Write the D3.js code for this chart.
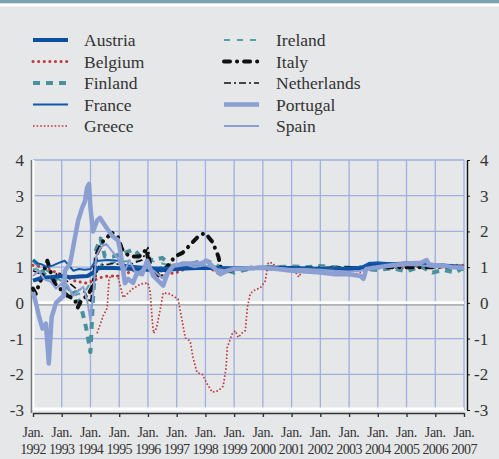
<!DOCTYPE html>
<html lang="en">
<head>
<meta charset="UTF-8">
<title>Euro area spreads</title>
<script src="https://cdn.jsdelivr.net/npm/d3@7"></script>
<style>
  body { margin: 0; background: #e6e7e9; }
  svg { display: block; font-family: "Liberation Serif", "Times New Roman", serif; }
  .grid { stroke: #9fb0dc; stroke-width: 1.3; }
  .line { fill: none; stroke-linejoin: round; }
</style>
</head>
<body>
<svg id="chart" width="499" height="459"></svg>
<script>
// data: [decimal year, value]
const years = d3.range(1992, 2008);
const yTicks = [-3, -2, -1, 0, 1, 2, 3, 4];

const austria = [[1992.0,0.62],[1992.3,0.7],[1992.6,0.72],[1993.0,0.75],[1993.3,0.72],[1993.6,0.74],[1993.9,0.75],[1994.1,0.85],[1994.25,0.97],[1994.6,0.98],[1995.0,0.97],[1995.5,0.95],[1996.0,0.93],[1996.5,0.92],[1997.0,0.95],[1997.5,0.97],[1998.0,0.98],[1998.5,0.97],[1999.0,0.96],[1999.5,0.97],[2000.0,0.98],[2000.5,0.98],[2001.0,0.97],[2001.5,0.96],[2002.0,0.95],[2002.5,0.94],[2003.0,0.95],[2003.4,0.97],[2003.7,1.08],[2004.0,1.1],[2004.5,1.08],[2005.0,1.1],[2005.5,1.08],[2006.0,1.06],[2006.5,1.03],[2007.0,1.0]];
const belgium = [[1992.0,1.05],[1992.4,1.0],[1992.8,0.85],[1993.1,0.75],[1993.5,0.6],[1993.9,0.55],[1994.3,0.7],[1994.6,0.75],[1995.0,0.75],[1995.5,0.9],[1995.9,0.98],[1996.4,0.9],[1996.9,0.82],[1997.3,0.95],[1997.6,1.1],[1998.0,1.05],[1998.5,0.8],[1999.0,0.92],[1999.5,0.97],[2000.0,1.0],[2000.5,1.0],[2001.0,0.97],[2001.5,0.95],[2002.0,0.95],[2002.5,0.93],[2003.0,0.95],[2003.5,0.98],[2004.0,1.0],[2004.5,1.02],[2005.0,1.03],[2005.5,1.05],[2006.0,1.0],[2006.5,1.05],[2007.0,1.05]];
const finland = [[1992.0,1.2],[1992.2,1.05],[1992.4,0.8],[1992.6,0.7],[1992.9,0.6],[1993.1,0.5],[1993.3,0.25],[1993.5,0.3],[1993.7,-0.2],[1993.85,-0.7],[1994.0,-1.38],[1994.08,0.0],[1994.2,1.5],[1994.35,1.8],[1994.5,1.3],[1994.8,1.3],[1995.2,1.4],[1995.5,1.5],[1995.8,1.25],[1996.2,1.2],[1996.5,1.26],[1996.9,0.95],[1997.2,1.1],[1997.5,1.1],[1998.0,1.18],[1998.3,1.1],[1998.6,0.95],[1999.0,0.85],[1999.5,0.95],[2000.0,1.0],[2000.5,1.0],[2001.0,1.02],[2001.5,1.0],[2002.0,1.03],[2002.5,1.0],[2003.0,0.98],[2003.5,0.95],[2004.0,0.92],[2004.5,0.97],[2005.0,0.88],[2005.5,1.02],[2005.9,0.85],[2006.3,0.92],[2006.7,0.85],[2007.0,1.0]];
const france = [[1992.0,1.2],[1992.15,1.1],[1992.3,1.08],[1992.5,1.0],[1992.7,1.05],[1992.9,1.12],[1993.1,1.18],[1993.25,1.05],[1993.4,0.9],[1993.6,0.95],[1993.8,0.93],[1994.0,0.95],[1994.15,1.15],[1994.3,1.18],[1994.6,1.2],[1995.0,1.18],[1995.2,1.05],[1995.5,1.03],[1996.0,1.0],[1996.5,0.98],[1997.0,1.0],[1997.5,1.02],[1998.0,1.03],[1998.5,1.0],[1999.0,0.98],[1999.5,1.0],[2000.0,1.0],[2001.0,0.98],[2002.0,0.97],[2003.0,0.98],[2003.5,1.02],[2003.7,1.12],[2004.0,1.12],[2004.5,1.1],[2005.0,1.12],[2005.5,1.1],[2006.0,1.08],[2006.5,1.05],[2007.0,1.02]];
const greece = [[1994.23,-0.85],[1994.45,-0.35],[1994.58,-0.15],[1994.65,0.7],[1994.75,0.75],[1994.95,0.75],[1995.14,0.15],[1995.48,0.4],[1995.75,0.53],[1996.0,0.56],[1996.08,0.3],[1996.15,-0.5],[1996.2,-0.85],[1996.3,-0.7],[1996.42,-0.22],[1996.53,0.28],[1996.77,0.25],[1997.05,0.1],[1997.19,-0.5],[1997.3,-0.98],[1997.47,-1.07],[1997.57,-1.53],[1997.71,-1.95],[1997.89,-2.0],[1998.06,-2.27],[1998.24,-2.5],[1998.45,-2.46],[1998.62,-2.33],[1998.72,-1.82],[1998.76,-1.25],[1998.93,-0.87],[1999.04,-0.78],[1999.14,-0.97],[1999.28,-0.84],[1999.39,-0.78],[1999.46,-0.13],[1999.56,0.25],[1999.67,0.34],[1999.91,0.42],[2000.08,0.6],[2000.19,1.12],[2000.33,1.12],[2000.43,1.02],[2000.8,0.98],[2001.1,0.9],[2001.25,0.72],[2001.4,0.95],[2002.0,0.97],[2002.5,0.9],[2002.7,0.82],[2003.3,0.82],[2003.6,0.92],[2004.1,0.97],[2005.0,0.97],[2005.5,1.02],[2006.0,1.0],[2006.5,0.98],[2007.0,1.05]];
const ireland = [[1992.0,0.95],[1992.5,0.9],[1993.0,0.6],[1993.4,0.2],[1993.8,0.3],[1994.1,0.7],[1994.4,1.1],[1995.0,1.15],[1996.0,1.2],[1996.5,1.1],[1997.0,1.0],[1998.0,1.05],[1999.0,0.95],[1999.5,1.0],[2000.5,1.02],[2001.5,0.98],[2002.5,1.0],[2003.5,0.95],[2004.5,1.0],[2005.3,0.95],[2006.0,1.02],[2006.5,0.95],[2007.0,0.92]];
const italy = [[1992.0,0.4],[1992.1,0.25],[1992.2,0.5],[1992.35,0.8],[1992.5,1.18],[1992.6,0.9],[1992.75,0.55],[1993.0,0.35],[1993.2,0.2],[1993.45,0.1],[1993.55,-0.14],[1993.7,0.1],[1993.9,0.2],[1994.1,0.5],[1994.2,1.35],[1994.45,1.74],[1994.75,1.96],[1994.95,1.85],[1995.1,1.5],[1995.35,1.3],[1995.7,1.3],[1995.95,1.5],[1996.05,1.0],[1996.3,0.85],[1996.45,0.67],[1996.65,1.0],[1996.95,1.3],[1997.2,1.4],[1997.5,1.65],[1997.8,1.9],[1998.0,1.95],[1998.25,1.7],[1998.45,1.3],[1998.55,0.95],[1998.8,0.9],[1999.2,0.95],[1999.6,0.98],[2000.0,0.97],[2001.0,0.97],[2002.0,0.96],[2003.0,0.97],[2003.5,0.95],[2004.0,1.0],[2005.0,1.0],[2006.0,1.0],[2007.0,1.02]];
const netherlands = [[1992.0,0.9],[1992.3,0.8],[1992.6,0.7],[1992.9,0.85],[1993.2,0.6],[1993.5,0.4],[1993.8,0.3],[1994.0,0.0],[1994.1,0.5],[1994.3,1.05],[1994.8,1.1],[1995.3,1.05],[1995.8,1.2],[1996.0,1.55],[1996.15,0.95],[1996.5,1.0],[1997.0,1.05],[1997.5,1.0],[1998.0,1.0],[1998.5,0.95],[1999.0,0.95],[2000.0,1.0],[2001.0,0.98],[2002.0,0.98],[2003.0,1.0],[2004.0,1.05],[2005.0,1.05],[2006.0,1.02],[2007.0,1.0]];
const portugal = [[1992.0,0.3],[1992.1,0.0],[1992.2,-0.35],[1992.33,-0.72],[1992.45,-0.58],[1992.55,-1.7],[1992.65,-0.4],[1992.8,0.0],[1993.0,0.15],[1993.08,0.2],[1993.11,0.9],[1993.29,1.1],[1993.46,1.83],[1993.57,2.3],[1993.71,2.66],[1993.81,2.85],[1993.88,3.22],[1993.95,3.33],[1994.0,2.66],[1994.09,2.0],[1994.23,2.3],[1994.33,2.38],[1994.51,2.16],[1994.75,1.88],[1994.96,1.75],[1995.05,1.4],[1995.2,0.55],[1995.31,0.67],[1995.48,0.56],[1995.62,0.84],[1995.8,0.8],[1995.97,1.18],[1996.18,0.76],[1996.53,0.48],[1996.67,0.8],[1996.88,1.04],[1997.37,1.1],[1997.82,1.1],[1998.06,1.18],[1998.52,0.8],[1998.76,0.9],[1999.0,0.95],[1999.5,0.97],[2000.0,0.98],[2000.5,0.95],[2001.0,0.9],[2001.5,0.88],[2002.0,0.85],[2002.5,0.8],[2003.0,0.8],[2003.4,0.75],[2003.5,0.67],[2003.6,0.95],[2004.0,1.0],[2004.5,1.05],[2005.0,1.1],[2005.5,1.12],[2005.7,1.2],[2005.8,1.05],[2006.2,1.05],[2006.6,1.0],[2007.0,0.98]];
const spain = [[1992.0,0.75],[1992.2,0.9],[1992.4,0.65],[1992.6,0.6],[1992.8,0.4],[1993.0,0.55],[1993.2,0.5],[1993.4,0.2],[1993.6,0.35],[1993.75,0.45],[1993.9,0.0],[1994.0,-0.5],[1994.1,0.3],[1994.2,1.3],[1994.35,1.55],[1994.55,1.65],[1994.75,1.45],[1994.95,1.25],[1995.15,0.8],[1995.35,1.2],[1995.6,0.8],[1995.9,1.0],[1996.2,0.9],[1996.5,0.7],[1996.8,1.0],[1997.2,1.1],[1997.6,1.0],[1998.0,1.05],[1998.4,0.95],[1998.8,0.9],[1999.2,0.95],[1999.6,1.0],[2000.0,1.0],[2000.5,0.98],[2001.0,0.95],[2001.5,0.95],[2002.0,0.93],[2002.5,0.9],[2003.0,0.88],[2003.4,0.9],[2003.7,0.98],[2004.0,1.0],[2004.5,1.02],[2005.0,1.05],[2005.5,1.05],[2006.0,1.0],[2006.5,1.0],[2007.0,1.0]];

const styles = {
  Austria:     { data: austria,     color: "#0b4f9e", width: 4,   dash: null,          cap: "butt" },
  Belgium:     { data: belgium,     color: "#c0393b", width: 3,   dash: "0.1 5.5",     cap: "round" },
  Finland:     { data: finland,     color: "#4a919d", width: 4,   dash: "7 6",         cap: "butt" },
  France:      { data: france,      color: "#1258aa", width: 2,   dash: null,          cap: "butt" },
  Greece:      { data: greece,      color: "#c0393b", width: 1.7, dash: "1.6 2",       cap: "butt" },
  Ireland:     { data: ireland,     color: "#55a0aa", width: 2,   dash: "6 7",         cap: "butt" },
  Italy:       { data: italy,       color: "#111111", width: 4,   dash: "6 7 0.1 7",   cap: "round" },
  Netherlands: { data: netherlands, color: "#111111", width: 1.6, dash: "7 3 2 3",     cap: "butt" },
  Portugal:    { data: portugal,    color: "#8b9fd2", width: 4.5, dash: null,          cap: "butt" },
  Spain:       { data: spain,       color: "#8b9fd2", width: 2,   dash: null,          cap: "butt" }
};
const legendCol1 = ["Austria", "Belgium", "Finland", "France", "Greece"];
const legendCol2 = ["Ireland", "Italy", "Netherlands", "Portugal", "Spain"];
const drawOrder = ["Greece", "Belgium", "Ireland", "Finland", "Netherlands", "Italy", "Austria", "France", "Spain", "Portugal"];

const svg = d3.select("#chart");
const plotLeft = 33, plotRight = 464, plotTop = 160, plotBottom = 410;

// header band
svg.append("rect").attr("x", 0).attr("y", 0).attr("width", 499).attr("height", 3.5).attr("fill", "#7aa3b0");
svg.append("rect").attr("x", 0).attr("y", 3.5).attr("width", 499).attr("height", 3).attr("fill", "#ffffff");

const x = d3.scaleLinear().domain([1992, 2007]).range([plotLeft, plotRight]);
const y = d3.scaleLinear().domain([-3, 4]).range([plotBottom, plotTop]);

// grid
const g = svg.append("g");
g.selectAll(".vg").data(years.slice(1)).enter().append("line").attr("class", "grid")
  .attr("x1", d => x(d)).attr("x2", d => x(d)).attr("y1", plotTop).attr("y2", plotBottom);
g.selectAll(".hg").data(yTicks.filter(d => d !== 0 && d !== -3)).enter().append("line").attr("class", "grid")
  .attr("x1", plotLeft).attr("x2", plotRight).attr("y1", d => y(d)).attr("y2", d => y(d));

// zero line and frame
g.append("line").attr("x1", plotLeft).attr("x2", plotRight).attr("y1", y(0) + 2).attr("y2", y(0) + 2).attr("stroke", "#6f6f6f").attr("stroke-width", 1);
g.append("line").attr("x1", plotLeft).attr("x2", plotRight).attr("y1", y(0)).attr("y2", y(0)).attr("stroke", "#ffffff").attr("stroke-width", 3);
g.append("line").attr("x1", plotLeft).attr("x2", plotRight).attr("y1", plotBottom - 1).attr("y2", plotBottom - 1).attr("stroke", "#ffffff").attr("stroke-width", 3);
g.append("line").attr("x1", plotLeft - 1.5).attr("x2", plotLeft - 1.5).attr("y1", plotTop).attr("y2", plotBottom + 3).attr("stroke", "#777777").attr("stroke-width", 1.6);
g.append("line").attr("x1", plotLeft + 0.5).attr("x2", plotLeft + 0.5).attr("y1", plotTop).attr("y2", plotBottom).attr("stroke", "#ffffff").attr("stroke-width", 2);

// series
const line = d3.line().x(d => x(d[0])).y(d => y(d[1]));
drawOrder.forEach(name => {
  const s = styles[name];
  svg.append("path").datum(s.data).attr("class", "line").attr("d", line)
    .attr("stroke", s.color).attr("stroke-width", s.width)
    .attr("stroke-dasharray", s.dash).attr("stroke-linecap", s.cap);
});

// bottom axis
const xAxis = svg.append("g").attr("transform", `translate(0,${plotBottom + 3})`)
  .call(d3.axisBottom(x).tickValues(years).tickSize(4).tickSizeOuter(0).tickFormat(""));
xAxis.select(".domain").attr("stroke", "#333").attr("stroke-width", 1.4);
xAxis.selectAll(".tick line").attr("stroke", "#333").attr("stroke-width", 1.4);
const xl = svg.append("g").attr("font-size", 14).attr("fill", "#333").attr("text-anchor", "middle");
xl.selectAll(".jan").data(years).enter().append("text")
  .attr("x", d => x(d)).attr("y", 437).attr("letter-spacing", -0.3).text("Jan.");
xl.selectAll(".yr").data(years).enter().append("text")
  .attr("x", d => x(d)).attr("y", 454).attr("letter-spacing", -0.6).text(d => d);

// left labels
svg.append("g").attr("font-size", 17).attr("fill", "#333").attr("text-anchor", "end")
  .selectAll("text").data(yTicks).enter().append("text")
  .attr("x", 24).attr("y", d => y(d) + 6).text(d => d);

// right axis
const yAxisR = svg.append("g").attr("transform", "translate(467,0)")
  .call(d3.axisRight(y).tickValues(yTicks).tickSize(3).tickSizeOuter(0).tickFormat(""));
yAxisR.select(".domain").attr("stroke", "#111").attr("stroke-width", 1.4);
yAxisR.selectAll(".tick line").attr("stroke", "#111");
svg.append("g").attr("font-size", 17).attr("fill", "#333").attr("text-anchor", "start")
  .selectAll("text").data(yTicks).enter().append("text")
  .attr("x", d => d < 0 ? 474 : 480).attr("y", d => y(d) + 6).text(d => d);

// legend
const lg = svg.append("g");
function legendColumn(names, x0, tx) {
  names.forEach((name, i) => {
    const s = styles[name];
    const ly = 40 + i * 21.5;
    lg.append("line").attr("x1", x0 + 2).attr("x2", x0 + 37).attr("y1", ly).attr("y2", ly)
      .attr("stroke", s.color).attr("stroke-width", s.width)
      .attr("stroke-dasharray", s.dash).attr("stroke-linecap", s.cap);
    lg.append("text").attr("x", tx).attr("y", ly + 6).attr("font-size", 17.5).attr("fill", "#333").text(name);
  });
}
legendColumn(legendCol1, 31, 84);
legendColumn(legendCol2, 222, 276);
</script>
</body>
</html>
